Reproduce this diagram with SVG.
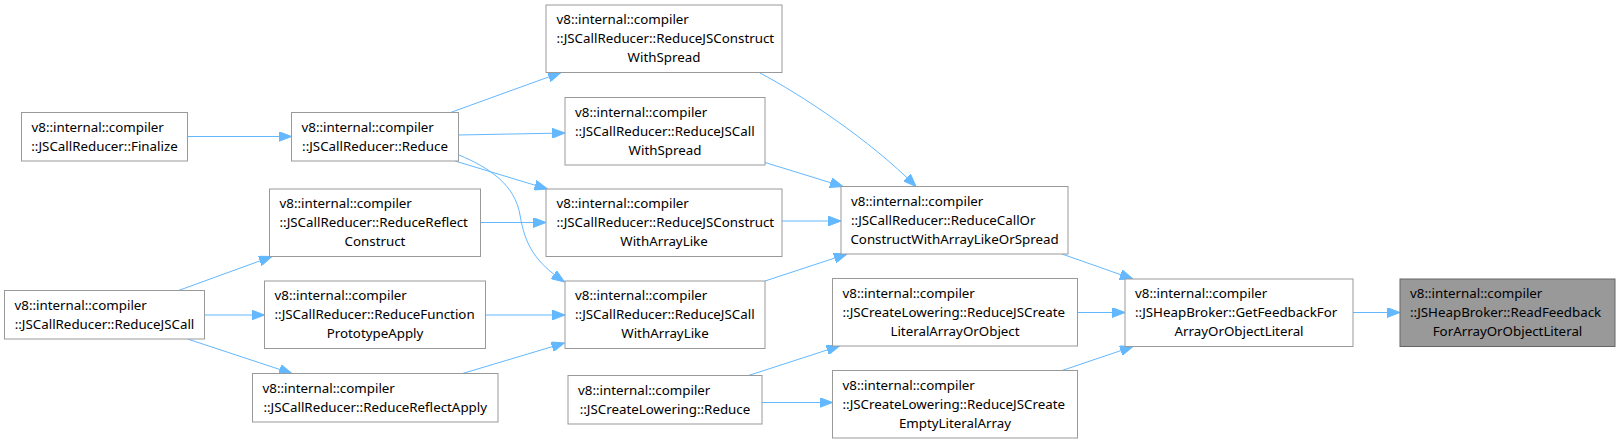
<svg xmlns="http://www.w3.org/2000/svg" width="1621" height="444" viewBox="0 0 1621 444">
<style>
.n rect{fill:#fff;stroke:#999;stroke-width:1}
.root rect{fill:#999;stroke:#666;stroke-width:1}
text{font-family:"Noto Sans","Open Sans","DejaVu Sans",sans-serif;font-size:13.33px;fill:#000}
.c{text-anchor:middle}
#edges path{fill:none;stroke:#63b8ff;stroke-width:1;marker-end:url(#ah)}
</style>
<defs>
<marker id="ah" viewBox="0 0 13 10" refX="13" refY="5" markerWidth="13" markerHeight="10" markerUnits="userSpaceOnUse" orient="auto">
<path d="M0,0 L13,5 L0,10 z" fill="#63b8ff" stroke="#63b8ff" stroke-width="1"/>
</marker>
</defs>
<rect width="1621" height="444" fill="#fff"/>
<g id="edges">
<path d="M188,136.5 L291.5,136.5"/>
<path d="M450.5,112.5 L561,72.5"/>
<path d="M458.5,135 L565,133"/>
<path d="M455,161 L547.5,189"/>
<path d="M459,155 C490,168 515,185 520,215 C525,245 535,262 564.5,282"/>
<path d="M480.5,222.5 L546,222.5"/>
<path d="M178.5,290.5 L272,256.5"/>
<path d="M204.5,315 L264.5,315"/>
<path d="M187.5,339 L292,373.5"/>
<path d="M485.5,315 L565,315"/>
<path d="M462.5,373.5 L564.5,343"/>
<path d="M760,73 C800,94 870,140 916,186.5"/>
<path d="M765,162.5 L843,186.5"/>
<path d="M782,221 L841,221"/>
<path d="M765,281 L847,254"/>
<path d="M1062,254 L1133,279"/>
<path d="M1077.5,312.5 L1125,312.5"/>
<path d="M1062,370.5 L1133,346.5"/>
<path d="M1353,312.5 L1400,312.5"/>
<path d="M748.5,375.5 L839.5,346"/>
<path d="M762,402.5 L832.5,402.5"/>
</g>
<g id="n_finalize" class="n"><rect x="21.5" y="112.5" width="166" height="48.5"/><text x="31.5" y="131.75">v8::internal::compiler</text><text x="104.5" y="150.75" class="c">::JSCallReducer::Finalize</text></g>
<g id="n_reduce" class="n"><rect x="291.5" y="112.5" width="167" height="48.5"/><text x="301.5" y="131.75">v8::internal::compiler</text><text x="375" y="150.75" class="c">::JSCallReducer::Reduce</text></g>
<g id="n_cws" class="n"><rect x="546" y="5" width="236" height="67.5"/><text x="556.5" y="24.25">v8::internal::compiler</text><text x="556.5" y="43.25">::JSCallReducer::ReduceJSConstruct</text><text x="664" y="62.25" class="c">WithSpread</text></g>
<g id="n_callws" class="n"><rect x="565" y="97.5" width="200" height="67.5"/><text x="575" y="116.75">v8::internal::compiler</text><text x="575" y="135.75">::JSCallReducer::ReduceJSCall</text><text x="665" y="154.75" class="c">WithSpread</text></g>
<g id="n_cwal" class="n"><rect x="546" y="189" width="236" height="67.5"/><text x="556.5" y="208.25">v8::internal::compiler</text><text x="556.5" y="227.25">::JSCallReducer::ReduceJSConstruct</text><text x="664" y="246.25" class="c">WithArrayLike</text></g>
<g id="n_callor" class="n"><rect x="841" y="186.5" width="227" height="67.5"/><text x="851" y="205.75">v8::internal::compiler</text><text x="851" y="224.75">::JSCallReducer::ReduceCallOr</text><text x="954.5" y="243.75" class="c">ConstructWithArrayLikeOrSpread</text></g>
<g id="n_callwal" class="n"><rect x="565" y="281" width="200" height="67.5"/><text x="575" y="300.25">v8::internal::compiler</text><text x="575" y="319.25">::JSCallReducer::ReduceJSCall</text><text x="665" y="338.25" class="c">WithArrayLike</text></g>
<g id="n_rrc" class="n"><rect x="269.5" y="189" width="211" height="67.5"/><text x="279.5" y="208.25">v8::internal::compiler</text><text x="279.5" y="227.25">::JSCallReducer::ReduceReflect</text><text x="375" y="246.25" class="c">Construct</text></g>
<g id="n_rjscall" class="n"><rect x="4.5" y="290.5" width="200" height="48.5"/><text x="14.5" y="309.75">v8::internal::compiler</text><text x="104.5" y="328.75" class="c">::JSCallReducer::ReduceJSCall</text></g>
<g id="n_rfpa" class="n"><rect x="264.5" y="281" width="221" height="67.5"/><text x="274.5" y="300.25">v8::internal::compiler</text><text x="274.5" y="319.25">::JSCallReducer::ReduceFunction</text><text x="375" y="338.25" class="c">PrototypeApply</text></g>
<g id="n_rra" class="n"><rect x="252.5" y="373.5" width="245.5" height="48.5"/><text x="262.5" y="392.75">v8::internal::compiler</text><text x="375.25" y="411.75" class="c">::JSCallReducer::ReduceReflectApply</text></g>
<g id="n_lit" class="n"><rect x="832.5" y="278.5" width="245" height="67.5"/><text x="842.5" y="297.75">v8::internal::compiler</text><text x="842.5" y="316.75">::JSCreateLowering::ReduceJSCreate</text><text x="955" y="335.75" class="c">LiteralArrayOrObject</text></g>
<g id="n_clred" class="n"><rect x="568" y="375.5" width="194" height="48.5"/><text x="578" y="394.75">v8::internal::compiler</text><text x="665" y="413.75" class="c">::JSCreateLowering::Reduce</text></g>
<g id="n_empty" class="n"><rect x="832.5" y="370.5" width="245" height="67.5"/><text x="842.5" y="389.75">v8::internal::compiler</text><text x="842.5" y="408.75">::JSCreateLowering::ReduceJSCreate</text><text x="955" y="427.75" class="c">EmptyLiteralArray</text></g>
<g id="n_get" class="n"><rect x="1125" y="279" width="228" height="67.5"/><text x="1135" y="298.25">v8::internal::compiler</text><text x="1135" y="317.25">::JSHeapBroker::GetFeedbackFor</text><text x="1239" y="336.25" class="c">ArrayOrObjectLiteral</text></g>
<g id="n_read" class="root"><rect x="1400" y="279" width="215" height="67.5"/><text x="1410" y="298.25">v8::internal::compiler</text><text x="1410" y="317.25">::JSHeapBroker::ReadFeedback</text><text x="1507.5" y="336.25" class="c">ForArrayOrObjectLiteral</text></g>
</svg>
